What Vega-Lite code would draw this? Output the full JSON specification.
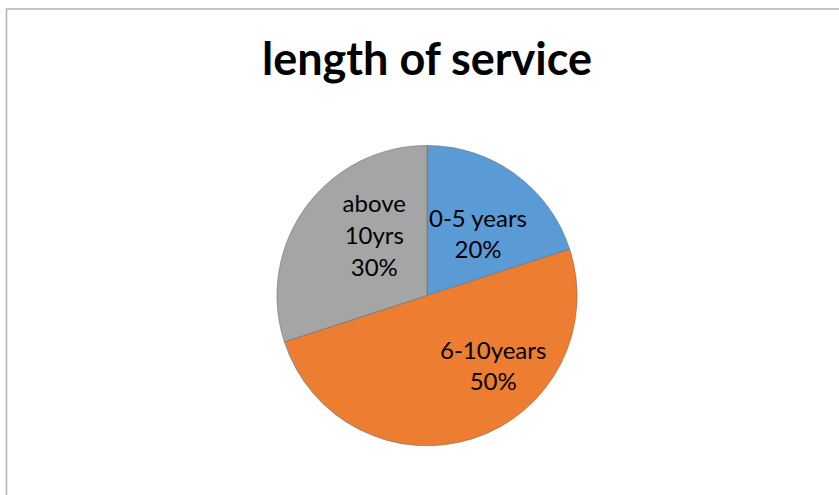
{
  "$schema": "https://vega.github.io/schema/vega-lite/v6.json",
  "autosize": {"type": "none"},
  "padding": {"left": 6.5, "top": 9, "right": 0, "bottom": 0},
  "width": 841,
  "height": 573,
  "background": "white",
  "view": {"stroke": "#b3b3b3", "strokeWidth": 1.5},
  "config": {"view": {"stroke": "#b3b3b3", "strokeWidth": 1.5}},
  "title": {
    "text": "length of service",
    "font": "Lato",
    "fontSize": 45,
    "fontWeight": "bold",
    "color": "#000000",
    "anchor": "middle",
    "baseline": "alphabetic",
    "offset": -111
  },
  "data": {
    "values": [
      {"category": "0-5 years", "value": 20, "label": "0-5 years\n20%"},
      {"category": "6-10years", "value": 50, "label": "6-10years\n50%"},
      {"category": "above 10yrs", "value": 30, "label": "above\n10yrs\n30%"}
    ]
  },
  "layer": [
    {
      "mark": {"type": "arc", "outerRadius": 150, "stroke": "#6e6e6e", "strokeOpacity": 0.6, "strokeWidth": 1},
      "encoding": {
        "theta": {"field": "value", "type": "quantitative", "stack": true, "scale": {"domain": [0, 100]}},
        "order": {"field": "order_none", "type": "quantitative"},
        "color": {
          "field": "category",
          "type": "nominal",
          "scale": {"domain": ["0-5 years", "6-10years", "above 10yrs"], "range": ["#5B9BD5", "#ED7D31", "#A5A5A5"]},
          "legend": null
        }
      }
    },
    {
      "transform": [
        {"stack": "value", "groupby": [], "as": ["t0", "t1"]},
        {"calculate": "(datum.t0 + datum.t1) / 2", "as": "tm"},
        {"filter": "datum.category === '0-5 years'"}
      ],
      "mark": {"type": "text", "radius": 80, "dx": 4, "dy": -11, "font": "Lato", "fontSize": 24, "lineBreak": "\n", "lineHeight": 31, "align": "center", "baseline": "middle", "color": "#000000"},
      "encoding": {"theta": {"field": "tm", "type": "quantitative", "stack": null}, "text": {"field": "label"}}
    },
    {
      "transform": [
        {"stack": "value", "groupby": [], "as": ["t0", "t1"]},
        {"calculate": "(datum.t0 + datum.t1) / 2", "as": "tm"},
        {"filter": "datum.category === '6-10years'"}
      ],
      "mark": {"type": "text", "radius": 75, "dx": 43, "dy": -15, "font": "Lato", "fontSize": 24, "lineBreak": "\n", "lineHeight": 31, "align": "center", "baseline": "middle", "color": "#000000"},
      "encoding": {"theta": {"field": "tm", "type": "quantitative", "stack": null}, "text": {"field": "label"}}
    },
    {
      "transform": [
        {"stack": "value", "groupby": [], "as": ["t0", "t1"]},
        {"calculate": "(datum.t0 + datum.t1) / 2", "as": "tm"},
        {"filter": "datum.category === 'above 10yrs'"}
      ],
      "mark": {"type": "text", "radius": 80, "dx": 12, "dy": -43.5, "font": "Lato", "fontSize": 24, "lineBreak": "\n", "lineHeight": 32, "align": "center", "baseline": "middle", "color": "#000000"},
      "encoding": {"theta": {"field": "tm", "type": "quantitative", "stack": null}, "text": {"field": "label"}}
    }
  ]
}
